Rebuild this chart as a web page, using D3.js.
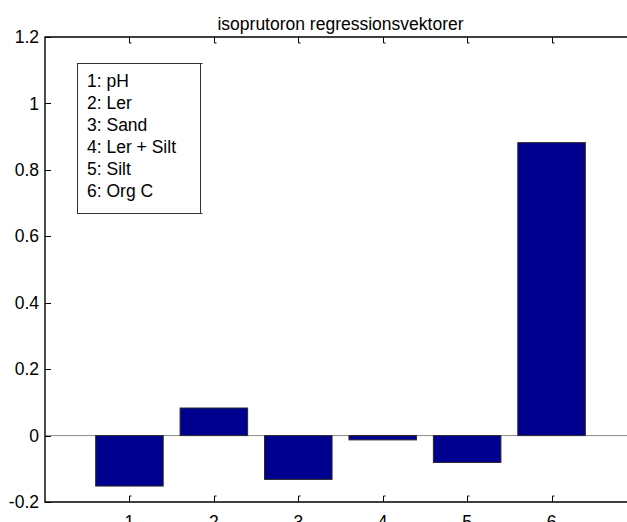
<!DOCTYPE html>
<html>
<head>
<meta charset="utf-8">
<script src="https://cdn.jsdelivr.net/npm/d3@7"></script>
<style>
  body { margin: 0; background: #fff; }
  text { font-family: "Liberation Sans", Arial, sans-serif; fill: #000; }
</style>
</head>
<body>
<div id="chart"></div>
<script>
var categories = [1, 2, 3, 4, 5, 6];
var values = [-0.152, 0.083, -0.132, -0.013, -0.081, 0.882];
var yTicks = [-0.2, 0, 0.2, 0.4, 0.6, 0.8, 1, 1.2];
var legendLabels = ["1: pH", "2: Ler", "3: Sand", "4: Ler + Silt", "5: Silt", "6: Org C"];
var title = "isoprutoron regressionsvektorer";

var width = 627,
    height = 522;

var axLeft = 45, axTop = 37, axBottom = 502;
var fs = 17.5;

var svg = d3.select("#chart")
    .append("svg")
    .attr("width", width)
    .attr("height", height);

// axes run 0..7 like matlab, right part falls off the picture
var x = d3.scaleLinear().domain([0, 7]).range([axLeft, axLeft + 591]);
var y = d3.scaleLinear().domain([-0.2, 1.2]).range([axBottom, axTop]);
var barW = (x(1) - x(0)) * 0.8;

// zero line
svg.append("line")
    .attr("x1", axLeft).attr("x2", width)
    .attr("y1", y(0)).attr("y2", y(0))
    .attr("stroke", "#8c8c8c")
    .attr("stroke-width", 1);

svg.selectAll(".bar")
    .data(values)
  .enter().append("rect")
    .attr("class", "bar")
    .attr("x", function(d, i) { return x(categories[i]) - barW / 2; })
    .attr("y", function(d) { return y(Math.max(0, d)); })
    .attr("width", barW)
    .attr("height", function(d) { return Math.abs(y(d) - y(0)); })
    .attr("fill", "#00008f")
    .attr("stroke", "#2a2a2a")
    .attr("stroke-width", 1);

// box lines (left, top, bottom)
svg.append("path")
    .attr("d", "M" + width + "," + axTop + "H" + axLeft + "V" + axBottom + "H" + width)
    .attr("fill", "none")
    .attr("stroke", "#000")
    .attr("stroke-width", 1.4);

var tl = 6;

// x ticks top and bottom, with the little matlab hook
categories.forEach(function(c) {
  var px = Math.round(x(c)) + 0.5;
  svg.append("path")
      .attr("d", "M" + px + "," + axTop + "V" + (axTop + tl) + "h2")
      .attr("fill", "none").attr("stroke", "#000");
  svg.append("path")
      .attr("d", "M" + px + "," + axBottom + "V" + (axBottom - tl) + "h2")
      .attr("fill", "none").attr("stroke", "#000");
  svg.append("text")
      .attr("x", x(c))
      .attr("y", axBottom + 26)
      .attr("text-anchor", "middle")
      .style("font-size", fs + "px")
      .text(c);
});

yTicks.forEach(function(t) {
  var py = Math.round(y(t)) + 0.5;
  svg.append("line")
      .attr("x1", axLeft).attr("x2", axLeft + tl)
      .attr("y1", py).attr("y2", py)
      .attr("stroke", "#000");
  svg.append("text")
      .attr("x", axLeft - 6)
      .attr("y", y(t))
      .attr("dy", "0.35em")
      .attr("text-anchor", "end")
      .style("font-size", fs + "px")
      .text(+t.toFixed(1));
});

svg.append("text")
    .attr("x", axLeft + 591 / 2)
    .attr("y", 30)
    .attr("text-anchor", "middle")
    .style("font-size", fs + "px")
    .text(title);

// legend
var lg = svg.append("g");
lg.append("rect")
    .attr("x", 77.5).attr("y", 63.5)
    .attr("width", 123).attr("height", 150)
    .attr("fill", "#fff")
    .attr("stroke", "#333");
lg.append("path")
    .attr("d", "M200.5,63.5h2M200.5,213.5h2")
    .attr("stroke", "#333");
lg.selectAll("text")
    .data(legendLabels)
  .enter().append("text")
    .attr("x", 87)
    .attr("y", function(d, i) { return 87 + i * 22; })
    .style("font-size", fs + "px")
    .text(function(d) { return d; });
</script>
</body>
</html>
